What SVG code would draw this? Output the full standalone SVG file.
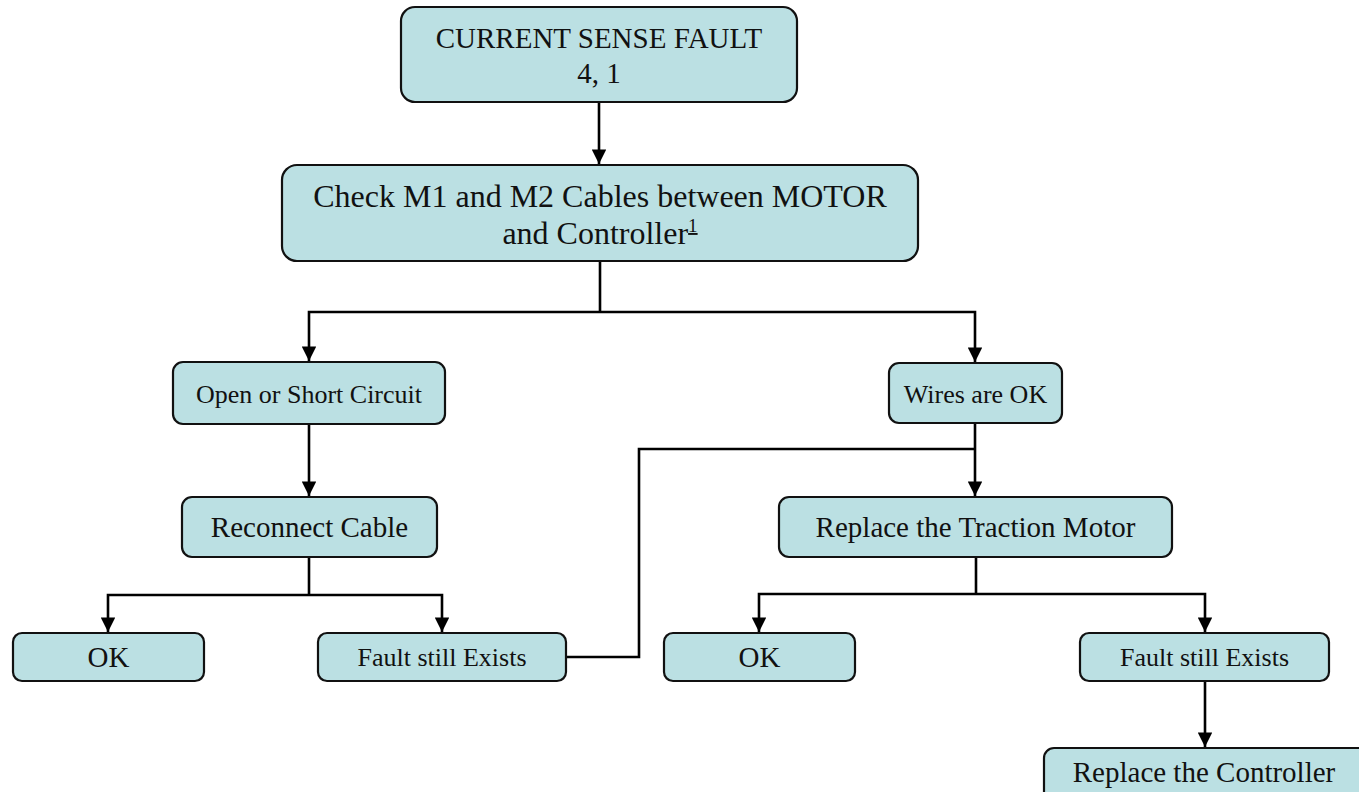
<svg xmlns="http://www.w3.org/2000/svg" width="1359" height="792" viewBox="0 0 1359 792">
  <defs>
    <style>
      .box { fill: #bbe0e3; stroke: #111; stroke-width: 2.2; }
      .lbl { font-family: "Liberation Serif", "Times New Roman", serif; fill: #111; text-anchor: middle; }
      .wire { fill: none; stroke: #000; stroke-width: 2.6; }
      .arrow { fill: none; stroke: #000; stroke-width: 2.6; marker-end: url(#head); }
    </style>
    <marker id="head" viewBox="0 0 10 10" refX="10" refY="5" markerWidth="5.6" markerHeight="5.6" markerUnits="strokeWidth" orient="auto">
      <path d="M0,0 L10,5 L0,10 Z" fill="#000"/>
    </marker>
  </defs>

  <rect width="1359" height="792" fill="#fff"/>

  <!-- connectors -->
  <g id="connectors">
    <line class="arrow" x1="599" y1="102" x2="599" y2="164"/>
    <polyline class="wire" points="600,261 600,312"/>
    <polyline class="arrow" points="600,312 309,312 309,361"/>
    <polyline class="arrow" points="600,312 975,312 975,362"/>
    <line class="arrow" x1="309" y1="424" x2="309" y2="496"/>
    <polyline class="wire" points="309,557 309,595"/>
    <polyline class="arrow" points="309,595 108,595 108,632"/>
    <polyline class="arrow" points="309,595 442,595 442,632"/>
    <polyline class="wire" points="566,657 639,657 639,449 975,449"/>
    <line class="arrow" x1="975" y1="423" x2="975" y2="496"/>
    <polyline class="wire" points="976,557 976,594"/>
    <polyline class="arrow" points="976,594 759,594 759,632"/>
    <polyline class="arrow" points="976,594 1205,594 1205,632"/>
    <line class="arrow" x1="1205" y1="681" x2="1205" y2="747"/>
  </g>

  <g id="n-fault">
    <rect class="box" x="401" y="7" width="396" height="95" rx="14"/>
    <text class="lbl" x="599" y="48" font-size="29">CURRENT SENSE FAULT</text>
    <text class="lbl" x="599" y="83" font-size="29">4, 1</text>
  </g>

  <g id="n-check">
    <rect class="box" x="282" y="165" width="636" height="96" rx="15"/>
    <text class="lbl" x="600" y="207" font-size="32">Check M1 and M2 Cables between MOTOR</text>
    <text class="lbl" x="600" y="244" font-size="32">and Controller<tspan font-size="19" dy="-12" text-decoration="underline">1</tspan></text>
  </g>

  <g id="n-open">
    <rect class="box" x="173" y="362" width="272" height="62" rx="10"/>
    <text class="lbl" x="309" y="403" font-size="26">Open or Short Circuit</text>
  </g>

  <g id="n-wires">
    <rect class="box" x="889" y="363" width="173" height="60" rx="10"/>
    <text class="lbl" x="975.5" y="403" font-size="26">Wires are OK</text>
  </g>

  <g id="n-reconnect">
    <rect class="box" x="182" y="497" width="255" height="60" rx="10"/>
    <text class="lbl" x="309.5" y="537" font-size="29">Reconnect Cable</text>
  </g>

  <g id="n-traction">
    <rect class="box" x="779" y="497" width="393" height="60" rx="10"/>
    <text class="lbl" x="975.5" y="537" font-size="29">Replace the Traction Motor</text>
  </g>

  <g id="n-ok1">
    <rect class="box" x="13" y="633" width="191" height="48" rx="9"/>
    <text class="lbl" x="108.5" y="667" font-size="29">OK</text>
  </g>

  <g id="n-still1">
    <rect class="box" x="318" y="633" width="248" height="48" rx="9"/>
    <text class="lbl" x="442" y="666" font-size="26">Fault still Exists</text>
  </g>

  <g id="n-ok2">
    <rect class="box" x="664" y="633" width="191" height="48" rx="9"/>
    <text class="lbl" x="759.5" y="667" font-size="29">OK</text>
  </g>

  <g id="n-still2">
    <rect class="box" x="1080" y="633" width="249" height="48" rx="9"/>
    <text class="lbl" x="1204.5" y="666" font-size="26">Fault still Exists</text>
  </g>

  <g id="n-controller">
    <rect class="box" x="1044" y="748" width="330" height="60" rx="10"/>
    <text class="lbl" x="1204" y="782" font-size="29">Replace the Controller</text>
  </g>
</svg>
